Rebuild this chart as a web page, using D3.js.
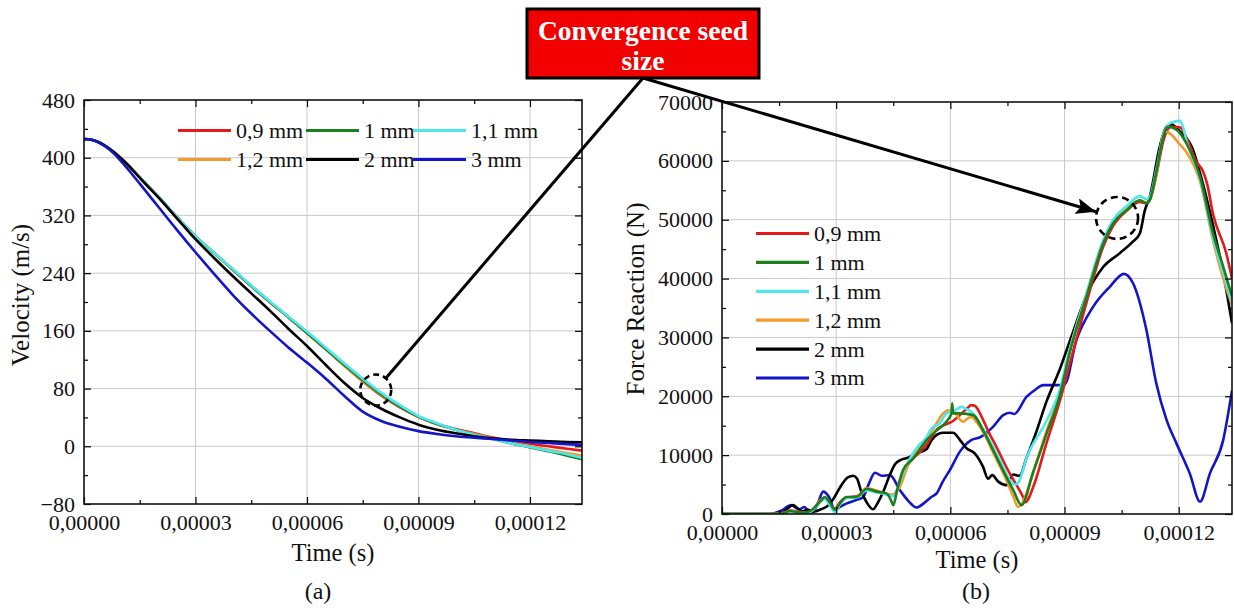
<!DOCTYPE html>
<html>
<head>
<meta charset="utf-8">
<script src="https://cdn.jsdelivr.net/npm/d3@7"></script>
<style>
  body { margin: 0; background: #fff; }
  svg { display: block; }
  svg text { font-family: "Liberation Serif", "Times New Roman", serif !important; fill: #111; }
</style>
</head>
<body>
<svg id="chart" width="1234" height="608"></svg>
<script>
// ---- Shared axis data (time in microseconds) ----
const timeTicks = [0, 30, 60, 90, 120];
const timeTickLabels = ["0,00000", "0,00003", "0,00006", "0,00009", "0,00012"];
const timeMinorTicks = [15, 45, 75, 105];
const timeMax = 134;

const seriesNames = ["0,9 mm", "1 mm", "1,1 mm", "1,2 mm", "2 mm", "3 mm"];
const seriesColors = ["#e3191c", "#1c7f1c", "#4fe6f0", "#f39a2c", "#000000", "#1414c8"];

// ---- (a) Velocity (m/s) ----
const velocityTicks = [-80, 0, 80, 160, 240, 320, 400, 480];
const velocityMinorTicks = [-40, 40, 120, 200, 280, 360, 440];
const velTime = [0, 2, 4, 6, 8, 10, 12, 15, 20, 25, 30, 35, 40, 45, 50, 55, 60, 65, 70, 75, 80, 85, 90, 95, 100, 105, 110, 115, 120, 125, 130, 134];
const vel_0_9mm = [426, 425, 421.5, 415.5, 408, 399, 389, 373, 346, 318, 291, 268, 245, 222, 200, 179, 157, 135, 112, 90, 70, 54, 41, 31, 24, 18, 12, 7.5, 3.5, 0, -3.5, -6];
const vel_1mm   = [426, 425, 421.5, 415.5, 408, 399, 389, 373, 346, 318, 291, 268, 245, 222, 200, 179, 157, 135, 113, 92, 72, 55, 41, 31, 23, 16, 10, 4, -1.5, -7, -13, -18];
const vel_1_1mm = [426, 425, 421.5, 415.5, 408, 399, 389, 373, 346, 318, 291, 268, 246, 223, 201, 180, 159, 137, 115, 94, 74, 57, 42, 32, 23, 16, 10, 4, -1, -6, -11, -16];
const vel_1_2mm = [426, 425, 421.5, 415.5, 408, 399, 389, 373, 346, 318, 291, 268, 245, 222, 200, 179, 157, 135, 112, 91, 71, 55, 41, 31, 23, 17, 11, 5.5, 0, -5, -9.5, -13];
const vel_2mm   = [426, 425, 421.5, 415.5, 408, 399, 389, 372, 345, 316, 287, 261, 236, 212, 188, 163, 139, 113, 88, 67, 52, 40, 30, 23, 18, 14, 11, 9, 8, 7, 6, 5.5];
const vel_3mm   = [426, 425, 421, 414.5, 406, 395, 383, 364, 332, 300, 269, 239, 210, 184, 160, 137, 116, 94, 70, 48, 35, 27, 21, 17, 14, 12, 10, 8, 6, 4.5, 3, 2];

// ---- (b) Force Reaction (N), [time, force] ----
const forceTicks = [0, 10000, 20000, 30000, 40000, 50000, 60000, 70000];
const forceMinorTicks = [5000, 15000, 25000, 35000, 45000, 55000, 65000];
const force_0_9mm = [[0,0],[14,0],[16,200],[18,600],[20,400],[22,200],[24,800],[26,2500],[27,2700],[28,2000],[29.7,900],[31,2000],[32.7,2800],[35.4,3000],[38,4200],[40.6,3900],[43.2,3400],[45,3200],[47,5500],[49,8500],[52,10500],[54,12000],[56.4,14300],[58,15000],[60.7,15800],[62.5,16800],[64.5,18000],[65.5,18500],[66.4,18400],[68.6,16000],[70,14000],[72.1,11400],[75.6,6900],[77.4,4900],[79.1,2900],[79.7,2000],[82,5000],[85,11500],[88.8,19300],[92,27000],[95.8,36000],[100.2,45500],[102.8,49000],[106.3,51500],[109.8,53000],[111.5,52800],[112.5,53500],[114.1,57500],[116,63500],[118,65800],[120.3,65700],[122,64000],[124.5,60000],[126.4,58200],[127.5,56000],[129,51000],[132.5,44300],[134,40000]];
const force_1mm = [[0,0],[14,0],[16,150],[18,500],[20,300],[22,250],[24,900],[26,2300],[27,2900],[28,2300],[29.7,700],[31,1800],[32.7,2900],[35.4,2900],[38,4300],[40.6,3800],[43.2,3500],[44.5,2200],[45,1500],[46,4000],[47.6,7500],[50.2,9400],[52,11000],[53.7,12500],[56.4,14200],[59,15700],[60.3,17100],[60.5,18800],[60.7,17100],[62.5,17100],[66,16800],[68.6,14200],[71.2,10900],[74.7,6300],[76.5,4100],[78.7,1500],[81.7,7000],[85.2,13500],[88.7,20000],[91.4,27500],[95.8,37000],[100.2,46000],[102.8,49400],[106.3,51600],[109.8,53300],[111.5,52800],[112.5,53500],[114.1,58000],[115.9,64000],[117.2,65800],[119.4,65300],[122,63000],[125.6,57300],[129,47700],[131.7,42000],[134,37000]];
const force_1_1mm = [[0,0],[14,0],[16,100],[18,400],[20,200],[22,100],[24,700],[26,2200],[27,2600],[28,1800],[29.7,300],[31,1600],[32.7,2700],[35.4,2800],[38,4000],[40.6,3700],[43.2,3300],[45,3000],[47,6000],[49,9000],[51.5,11500],[53.7,13000],[55,14500],[57.2,15400],[59,17100],[61,17500],[63,18200],[64,17900],[66,17100],[68.5,14600],[71.2,11400],[73.5,8500],[75.6,5800],[76.9,5000],[78,5500],[80,9500],[85,15500],[88.7,21000],[91.4,28000],[95.8,37500],[100.2,46500],[102.8,50000],[106.3,52300],[109.8,54000],[111.5,53500],[112.5,54000],[114.1,58500],[116,64500],[118,66500],[120.3,66800],[121,66000],[122,63500],[125.6,57000],[129,47000],[131.7,41000],[134,36000]];
const force_1_2mm = [[0,0],[14,0],[16,150],[18,500],[20,300],[22,200],[24,800],[26,2400],[27,2800],[28,2000],[29.7,600],[31,1700],[32.7,2800],[35.4,2900],[38,4400],[40.6,4000],[43.2,3400],[45,3300],[47,5000],[49,8500],[51.5,11000],[53.7,12700],[56,15000],[58,17000],[59.5,17600],[61,17300],[63.3,15700],[64.5,16200],[65.5,16500],[67,15500],[69,13500],[71.2,10500],[74.7,5800],[76.5,3000],[77.8,1200],[78.5,1500],[82,7500],[85.2,14000],[88.7,20500],[91.4,28000],[95.8,37500],[100.2,46500],[102.8,49800],[106.3,52000],[109.8,53300],[111.5,52900],[112.5,53500],[114.1,57500],[116.3,65000],[118,64500],[120,63000],[122,61500],[125.6,56500],[129,46500],[131.7,40000],[134,35500]];
const force_2mm = [[0,0],[14,0],[16,300],[18.7,1500],[20,900],[21,400],[22.5,700],[24,400],[26,800],[28,1500],[29.2,2500],[31,4500],[33,6200],[34.5,6500],[35.5,6000],[36.5,4000],[38,2000],[39.7,800],[41,2000],[42.5,4000],[44,6500],[45.5,8500],[47,9200],[49,9600],[51,10300],[53.7,11000],[55,12500],[56.5,13500],[58,13800],[60.7,13800],[62.5,12600],[64.2,11200],[66.4,10300],[68.6,8000],[69.9,6000],[71,6600],[72.6,5500],[74.7,4900],[76.5,6700],[78.2,6500],[80,9500],[82.6,14000],[85.2,19000],[88.7,24500],[92,30500],[96,37500],[100.2,42000],[104.5,44300],[108,46300],[109.8,47700],[111.1,51600],[112.4,53900],[115,62400],[116.8,65800],[118,66200],[120.3,65000],[123.8,61800],[125.6,57900],[129.1,48800],[131.7,40900],[134,32400]];
const force_3mm = [[0,0],[12.6,0],[14,200],[16,700],[17,1200],[18.3,1500],[19.5,1000],[20.5,800],[21.5,1200],[23.5,200],[25,1500],[26.6,3800],[28,3000],[29.7,700],[31,1200],[32.8,1800],[35.4,2400],[37,2800],[38.5,5000],[40.2,7000],[42,6500],[44.1,6600],[46.8,4000],[49,2200],[51.1,1100],[53,1800],[55,2900],[56.4,3500],[58,5500],[59.9,7500],[62.5,10600],[65.6,12600],[67.7,13000],[71.2,14800],[73.9,16800],[75.6,17200],[76.8,17000],[80,19900],[82.5,21200],[84.4,21900],[88.3,21900],[90,22000],[93.1,29500],[97.5,35200],[101.9,38600],[105.6,40800],[108,39200],[111.5,31300],[114.1,22200],[116.8,16000],[119.4,12000],[122.9,6900],[125.6,2100],[128.2,6900],[131.7,12600],[134,21000]];

// Highlighted regions (data coordinates) and the callout label
const velocityHighlight = { t: 78.5, v: 78, r: 15.5 };
const forceHighlight = { t: 103.8, f: 50300, r: 21 };
const calloutLines = ["Convergence seed", "size"];

const FONT = '"Liberation Serif", "Times New Roman", serif';
const svg = d3.select("#chart");
const defs = svg.append("defs");
defs.append("marker")
  .attr("id", "arrowHead")
  .attr("markerUnits", "userSpaceOnUse")
  .attr("viewBox", "0 0 20 16")
  .attr("refX", 20).attr("refY", 8)
  .attr("markerWidth", 20).attr("markerHeight", 16)
  .attr("orient", "auto")
  .append("path").attr("d", "M0,0 L20,8 L0,16 L4,8 Z").attr("fill", "#000");

function drawPanel(cfg) {
  const g = svg.append("g");
  const x = d3.scaleLinear().domain([0, timeMax]).range([cfg.left, cfg.right]);
  const y = d3.scaleLinear().domain(cfg.yDomain).range([cfg.bottom, cfg.top]);

  // grid
  g.append("g").selectAll("line").data(timeTicks.filter(d => d > 0)).join("line")
    .attr("x1", d => x(d)).attr("x2", d => x(d))
    .attr("y1", cfg.top).attr("y2", cfg.bottom)
    .attr("stroke", "#c9c9c9").attr("stroke-width", 1);
  g.append("g").selectAll("line").data(cfg.yTicks.filter(d => d > cfg.yDomain[0] && d < cfg.yDomain[1])).join("line")
    .attr("x1", cfg.left).attr("x2", cfg.right)
    .attr("y1", d => y(d)).attr("y2", d => y(d))
    .attr("stroke", "#c9c9c9").attr("stroke-width", 1);

  // series
  const clipId = "clip-" + cfg.id;
  defs.append("clipPath").attr("id", clipId).append("rect")
    .attr("x", cfg.left).attr("y", cfg.top)
    .attr("width", cfg.right - cfg.left).attr("height", cfg.bottom - cfg.top);
  const line = d3.line().x(d => x(d[0])).y(d => y(d[1])).curve(d3.curveMonotoneX);
  const plot = g.append("g").attr("clip-path", `url(#${clipId})`);
  cfg.order.forEach(i => {
    plot.append("path")
      .attr("d", line(cfg.series[i]))
      .attr("fill", "none")
      .attr("stroke", seriesColors[i])
      .attr("stroke-width", 2.6)
      .attr("stroke-linejoin", "round");
  });

  // axes: major & minor ticks inward on all four sides
  const tickStyle = sel => {
    sel.attr("font-family", null).attr("font-size", null);
    sel.select(".domain").remove();
    sel.selectAll(".tick line").attr("stroke", "#000").attr("stroke-width", 1.2);
    sel.selectAll(".tick text").attr("fill", "#111")
      .style("font-family", FONT).style("font-size", "22px");
  };
  g.append("g").attr("transform", `translate(0,${cfg.bottom})`)
    .call(d3.axisBottom(x).tickValues(timeTicks).tickFormat((d, i) => timeTickLabels[i])
      .tickSizeInner(-7).tickSizeOuter(0).tickPadding(10.5)).call(tickStyle);
  g.append("g").attr("transform", `translate(0,${cfg.bottom})`)
    .call(d3.axisBottom(x).tickValues(timeMinorTicks).tickFormat("").tickSizeInner(-4).tickSizeOuter(0)).call(tickStyle);
  g.append("g").attr("transform", `translate(0,${cfg.top})`)
    .call(d3.axisTop(x).tickValues(timeTicks).tickFormat("").tickSizeInner(-7).tickSizeOuter(0)).call(tickStyle);
  g.append("g").attr("transform", `translate(0,${cfg.top})`)
    .call(d3.axisTop(x).tickValues(timeMinorTicks).tickFormat("").tickSizeInner(-4).tickSizeOuter(0)).call(tickStyle);
  g.append("g").attr("transform", `translate(${cfg.left},0)`)
    .call(d3.axisLeft(y).tickValues(cfg.yTicks).tickFormat(d3.format("d"))
      .tickSizeInner(-7).tickSizeOuter(0).tickPadding(9)).call(tickStyle);
  g.append("g").attr("transform", `translate(${cfg.left},0)`)
    .call(d3.axisLeft(y).tickValues(cfg.yMinor).tickFormat("").tickSizeInner(-4).tickSizeOuter(0)).call(tickStyle);
  g.append("g").attr("transform", `translate(${cfg.right},0)`)
    .call(d3.axisRight(y).tickValues(cfg.yTicks).tickFormat("").tickSizeInner(-7).tickSizeOuter(0)).call(tickStyle);
  g.append("g").attr("transform", `translate(${cfg.right},0)`)
    .call(d3.axisRight(y).tickValues(cfg.yMinor).tickFormat("").tickSizeInner(-4).tickSizeOuter(0)).call(tickStyle);

  // frame
  g.append("rect").attr("x", cfg.left).attr("y", cfg.top)
    .attr("width", cfg.right - cfg.left).attr("height", cfg.bottom - cfg.top)
    .attr("fill", "none").attr("stroke", "#111").attr("stroke-width", 1.6);

  // axis titles and panel label
  g.append("text").attr("x", (cfg.left + cfg.right) / 2).attr("y", cfg.bottom + cfg.xTitleDy)
    .attr("text-anchor", "middle").style("font-size", "24.5px").text("Time (s)");
  g.append("text")
    .attr("transform", `translate(${cfg.yTitleX},${cfg.yTitleY}) rotate(-90)`)
    .attr("text-anchor", "middle").style("font-size", "25px").text(cfg.yTitle);
  g.append("text").attr("x", cfg.panelX).attr("y", 599)
    .attr("text-anchor", "middle").style("font-size", "24px").text(cfg.panel);

  // legend
  const leg = g.append("g");
  cfg.legend.forEach(item => {
    const i = item.i;
    leg.append("line").attr("x1", item.x).attr("x2", item.x + cfg.legendLine)
      .attr("y1", item.y).attr("y2", item.y)
      .attr("stroke", seriesColors[i]).attr("stroke-width", 3.2);
    leg.append("text").attr("x", item.x + cfg.legendLine + 5).attr("y", item.y)
      .attr("dy", "0.34em").style("font-size", "22px").text(seriesNames[i]);
  });

  return { x, y };
}

// ---- Panel (a) ----
const velSeries = [vel_0_9mm, vel_1mm, vel_1_1mm, vel_1_2mm, vel_2mm, vel_3mm]
  .map(vals => velTime.map((t, k) => [t, vals[k]]));
const legendA = [];
const legCols = [178, 306, 413];
[[0, 1, 2], [3, 4, 5]].forEach((row, r) => row.forEach((i, c) => legendA.push({ i, x: legCols[c], y: 130.5 + r * 29 })));
const panelA = drawPanel({
  id: "a", left: 84, right: 582, top: 100, bottom: 504,
  yDomain: [-80, 480], yTicks: velocityTicks, yMinor: velocityMinorTicks,
  series: velSeries, order: [0, 3, 1, 2, 4, 5],
  yTitle: "Velocity (m/s)", yTitleX: 29, yTitleY: 295, xTitleDy: 57,
  panel: "(a)", panelX: 318,
  legend: legendA, legendLine: 53
});

// ---- Panel (b) ----
const legendB = [0, 1, 2, 3, 4, 5].map(i => ({ i, x: 756, y: 233.5 + i * 28.9 }));
const panelB = drawPanel({
  id: "b", left: 722, right: 1232, top: 102, bottom: 514,
  yDomain: [0, 70000], yTicks: forceTicks, yMinor: forceMinorTicks,
  series: [force_0_9mm, force_1mm, force_1_1mm, force_1_2mm, force_2mm, force_3mm],
  order: [5, 4, 0, 3, 2, 1],
  yTitle: "Force Reaction (N)", yTitleX: 644, yTitleY: 299, xTitleDy: 54,
  panel: "(b)", panelX: 976,
  legend: legendB, legendLine: 53
});

// ---- Callout: label box, pointers and dashed circles ----
const box = { x: 527, y: 9, w: 232, h: 69 };
const anchor = [box.x + box.w / 2, box.y + box.h];

const cA = [panelA.x(velocityHighlight.t), panelA.y(velocityHighlight.v)];
const cB = [panelB.x(forceHighlight.t), panelB.y(forceHighlight.f)];
function edgePoint(c, r) {
  const dx = c[0] - anchor[0], dy = c[1] - anchor[1];
  const len = Math.hypot(dx, dy);
  return [c[0] - dx / len * r, c[1] - dy / len * r];
}
const endA = edgePoint(cA, velocityHighlight.r);
const endB = edgePoint(cB, forceHighlight.r + 1);

svg.append("circle").attr("cx", cA[0]).attr("cy", cA[1]).attr("r", velocityHighlight.r)
  .attr("fill", "none").attr("stroke", "#000").attr("stroke-width", 2.6).attr("stroke-dasharray", "6,4");
svg.append("circle").attr("cx", cB[0]).attr("cy", cB[1]).attr("r", forceHighlight.r)
  .attr("fill", "none").attr("stroke", "#000").attr("stroke-width", 2.6).attr("stroke-dasharray", "7,4.5");

svg.append("line").attr("x1", anchor[0]).attr("y1", anchor[1]).attr("x2", endA[0]).attr("y2", endA[1])
  .attr("stroke", "#000").attr("stroke-width", 3);
svg.append("line").attr("x1", anchor[0]).attr("y1", anchor[1]).attr("x2", endB[0]).attr("y2", endB[1])
  .attr("stroke", "#000").attr("stroke-width", 3).attr("marker-end", "url(#arrowHead)");

svg.append("rect").attr("x", box.x).attr("y", box.y).attr("width", box.w).attr("height", box.h)
  .attr("fill", "#f20000").attr("stroke", "#000").attr("stroke-width", 3);
svg.append("g").selectAll("text").data(calloutLines).join("text")
  .attr("x", box.x + box.w / 2).attr("y", (d, i) => 40 + i * 30)
  .attr("text-anchor", "middle").style("font-size", "27.5px").style("font-weight", "bold")
  .style("fill", "#fff").text(d => d);
</script>
</body>
</html>
